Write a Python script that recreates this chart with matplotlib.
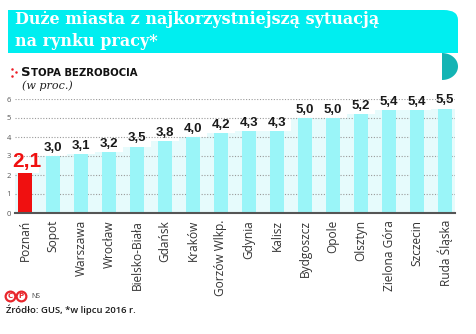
import numpy as np
import matplotlib
matplotlib.use("Agg")
from matplotlib import pyplot as plt
from matplotlib.patches import Rectangle, FancyBboxPatch, Polygon
from matplotlib.lines import Line2D

cities = ["Poznań", "Sopot", "Warszawa", "Wrocław", "Bielsko-Biała", "Gdańsk",
          "Kraków", "Gorzów Wlkp.", "Gdynia", "Kalisz", "Bydgoszcz", "Opole",
          "Olsztyn", "Zielona Góra", "Szczecin", "Ruda Śląska"]
rates = [2.1, 3.0, 3.1, 3.2, 3.5, 3.8, 4.0, 4.2, 4.3, 4.3, 5.0, 5.0, 5.2, 5.4, 5.4, 5.5]
yticks = [0, 1, 2, 3, 4, 5, 6]

W, H = 476, 334
fig = plt.figure(figsize=(W / 100, H / 100), dpi=100)

def fx(px):
    return px / W

def fy(py):
    return 1 - py / H

# title banner
banner_col = "#00eef0"
fig.patches.append(FancyBboxPatch((fx(8), fy(53)), fx(450), fy(10) - fy(53),
                                  boxstyle="round,pad=0,rounding_size=0.03",
                                  transform=fig.transFigure, fc=banner_col, ec="none"))
fig.patches.append(Rectangle((fx(8), fy(53)), fx(420), fy(10) - fy(53),
                             transform=fig.transFigure, fc=banner_col, ec="none"))
fig.patches.append(Rectangle((fx(8), fy(53)), fx(450), fy(30) - fy(53),
                             transform=fig.transFigure, fc=banner_col, ec="none"))
# curl under the banner
t = np.linspace(-np.pi / 2, np.pi / 2, 40)
cx, cy, rx, ry = 442, 66.5, 16, 13.5
pts = [(fx(cx + rx * np.cos(a)), fy(cy - ry * np.sin(a))) for a in t]
fig.patches.append(Polygon(pts, closed=True, transform=fig.transFigure,
                           fc="#14b4b4", ec="none"))

fig.text(fx(15), fy(20), "Duże miasta z najkorzystniejszą sytuacją", color="white",
         family="DejaVu Serif", weight="bold", fontsize=11.5, va="center", ha="left")
fig.text(fx(15), fy(41), "na rynku pracy*", color="white",
         family="DejaVu Serif", weight="bold", fontsize=11.5, va="center", ha="left")

# red dotted marker
fig.lines.append(Line2D([fx(12), fx(15.5), fx(12)], [fy(68.5), fy(72), fy(75.5)],
                        transform=fig.transFigure, ls="none", marker="o", ms=1.8,
                        color="#ee1c25", mec="none"))
t1 = fig.text(fx(21), fy(72), "S", fontsize=9.5, weight="bold", color="#111111",
              family="DejaVu Sans", va="center")
fig.canvas.draw()
bb = t1.get_window_extent()
fig.text(bb.x1 / W + fx(0.5), fy(72.5), "TOPA BEZROBOCIA", fontsize=7.3, weight="bold",
         color="#111111", family="DejaVu Sans", va="center")
fig.text(fx(22), fy(86), "(w proc.)", fontsize=8, style="italic", color="#222222",
         family="DejaVu Serif", va="center")

# chart
ax = fig.add_axes([fx(15), fy(213), fx(440), fy(99) - fy(213)])
x = np.arange(len(cities))
ax.bar(x, rates, width=1.0, color="#e6fbfc", zorder=1)
colors = ["#f01010"] + ["#9af5f8"] * (len(cities) - 1)
ax.bar(x, rates, width=0.5, color=colors, zorder=3)
for yv in yticks[1:]:
    ax.axhline(yv, color="#9a9a9a", lw=0.8, ls=(0, (1, 1.5)), zorder=2)
ax.axhline(0, color="#555555", lw=1.5, zorder=4, clip_on=False)

for i, v in enumerate(rates):
    lab = f"{v:.1f}".replace(".", ",")
    if i == 0:
        ax.text(i + 0.05, v + 0.1, lab, ha="center", va="bottom", color="#f01010",
                fontsize=15, weight="bold", family="Liberation Sans", zorder=5)
    else:
        ax.text(i, v + 0.12, lab, ha="center", va="bottom", color="#1a1a1a",
                fontsize=9.5, weight="bold", family="Liberation Sans", zorder=5)

ax.set_xlim(-0.357, len(cities) - 1 + 0.357)
ax.set_ylim(0, 6)
ax.set_yticks(yticks)
ax.set_yticklabels([str(v) for v in yticks], fontsize=5.5, color="#555555",
                   family="Open Sans")
ax.tick_params(axis="y", length=0, pad=3)
ax.set_xticks(x)
ax.set_xticklabels(cities, rotation=90, fontsize=8.6, color="#333333",
                   family="Open Sans", va="top", ha="center")
ax.tick_params(axis="x", length=0, pad=5)
for s in ax.spines.values():
    s.set_visible(False)
ax.set_facecolor("none")

# footer
for cxp in (10, 21):
    fig.lines.append(Line2D([fx(cxp)], [fy(296)], transform=fig.transFigure,
                            marker="o", ms=7, mfc="none", mec="#e8262c", mew=1.6))
fig.text(fx(10), fy(296), "C", fontsize=5, weight="bold", color="#e8262c",
         ha="center", va="center", family="DejaVu Sans")
fig.text(fx(21), fy(296), "P", fontsize=5, weight="bold", color="#e8262c",
         ha="center", va="center", family="DejaVu Sans")
fig.text(fx(31), fy(297), "NS", fontsize=5, color="#444444", va="center",
         family="Open Sans")
fig.text(fx(6), fy(310), "Źródło: GUS, *w lipcu 2016 r.", fontsize=6.8,
         weight="semibold", color="#1a1a1a", va="center", family="Open Sans")

fig.savefig("out.png", dpi=100)
